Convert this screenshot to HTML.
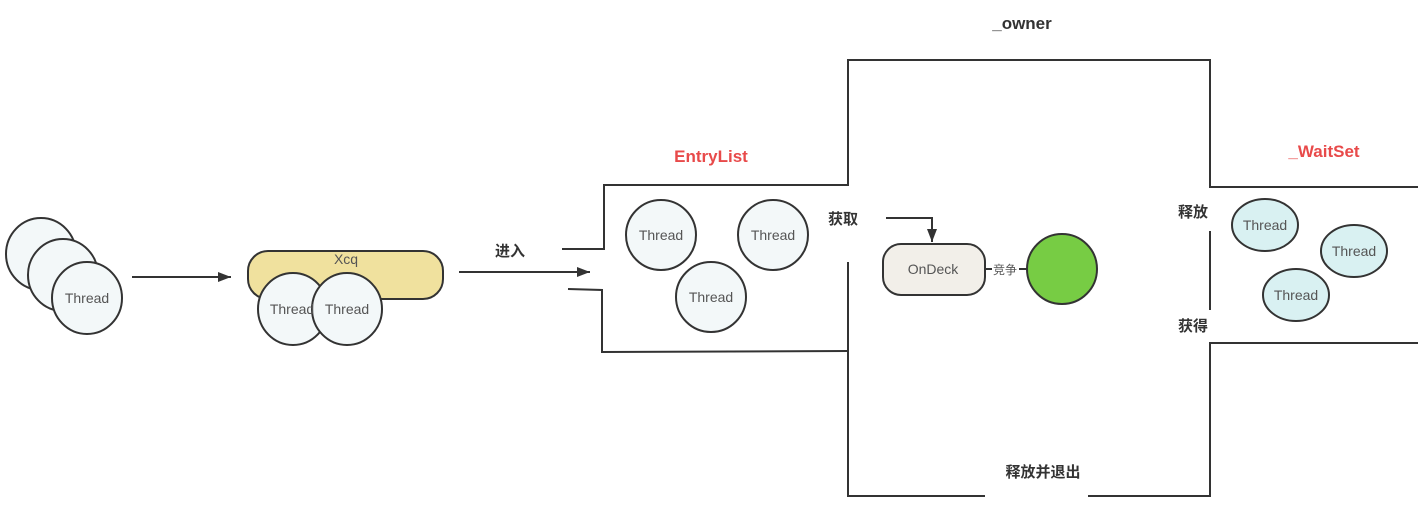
<!DOCTYPE html>
<html><head><meta charset="utf-8"><style>
html,body{margin:0;padding:0;background:#fff;width:1421px;height:512px;overflow:hidden}
svg{display:block}
text{font-family:"Liberation Sans","Noto Sans CJK SC",sans-serif}
</style></head><body>
<svg width="1421" height="512" viewBox="0 0 1421 512">
<defs><marker id="a" markerWidth="14" markerHeight="12" refX="13" refY="6" orient="auto" markerUnits="userSpaceOnUse"><path d="M0,1 L13,6 L0,11 z" fill="#333"/></marker></defs>
<g fill="none" stroke="#333" stroke-width="2">
<polyline points="562,249 604,249 604,185 848,185 848,60 1210,60 1210,187 1418,187"/>
<polyline points="568,289 602,290 602,352 848,351"/>
<polyline points="848,262 848,496 985,496"/>
<polyline points="1088,496 1210,496 1210,343 1418,343"/>
<line x1="1210" y1="231" x2="1210" y2="310"/>
<line x1="132" y1="277" x2="231" y2="277" marker-end="url(#a)"/>
<line x1="459" y1="272" x2="590" y2="272" marker-end="url(#a)"/>
<polyline points="886,218 932,218 932,242" marker-end="url(#a)"/>
<line x1="985" y1="269" x2="992" y2="269"/>
<line x1="1019" y1="269" x2="1028" y2="269"/>
</g>
<g stroke="#333" stroke-width="2" fill="#f3f8f9">
<ellipse cx="41" cy="254" rx="35" ry="36"/>
<ellipse cx="63" cy="275" rx="35" ry="36"/>
<ellipse cx="87" cy="298" rx="35" ry="36"/>
<rect x="248" y="251" width="195" height="48" rx="20" fill="#f0e19e"/>
<ellipse cx="293" cy="309" rx="35" ry="36"/>
<ellipse cx="347" cy="309" rx="35" ry="36"/>
<ellipse cx="661" cy="235" rx="35" ry="35"/>
<ellipse cx="773" cy="235" rx="35" ry="35"/>
<ellipse cx="711" cy="297" rx="35" ry="35"/>
<rect x="883" y="244" width="102" height="51" rx="18" fill="#f2efe9"/>
<ellipse cx="1062" cy="269" rx="35" ry="35" fill="#77cc44"/>
<ellipse cx="1265" cy="225" rx="33" ry="26" fill="#d9f1f2"/>
<ellipse cx="1354" cy="251" rx="33" ry="26" fill="#d9f1f2"/>
<ellipse cx="1296" cy="295" rx="33" ry="26" fill="#d9f1f2"/>
</g>
<g font-size="14" fill="#555" text-anchor="middle">
<text x="87" y="303">Thread</text>
<text x="346" y="264">Xcq</text>
<text x="292" y="314">Thread</text>
<text x="347" y="314">Thread</text>
<text x="661" y="240">Thread</text>
<text x="773" y="240">Thread</text>
<text x="711" y="302">Thread</text>
<text x="933" y="274">OnDeck</text>
<text x="1265" y="230">Thread</text>
<text x="1354" y="256">Thread</text>
<text x="1296" y="300">Thread</text>
<text x="1005" y="274" font-size="12">竞争</text>
</g>
<g font-size="15" font-weight="bold" fill="#333" text-anchor="middle">
<text x="510" y="256">进入</text>
<text x="843" y="224">获取</text>
<text x="1193" y="217">释放</text>
<text x="1193" y="331">获得</text>
<text x="1043" y="477">释放并退出</text>
<text x="1022" y="29" font-size="17">_owner</text>
<text x="711" y="162" font-size="17" fill="#e84a4a">EntryList</text>
<text x="1324" y="157" font-size="17" fill="#e84a4a">_WaitSet</text>
</g>
</svg>
</body></html>
